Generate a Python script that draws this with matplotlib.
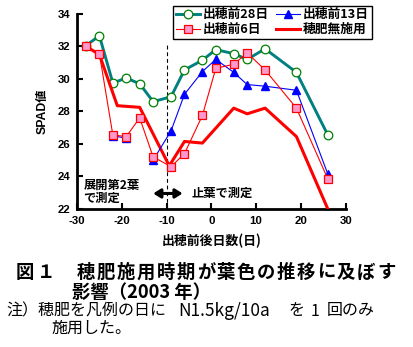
import matplotlib
matplotlib.use("Agg")
import matplotlib.pyplot as plt
import numpy as np
from matplotlib.patches import FancyArrowPatch

plt.rcParams['font.family'] = ['Liberation Sans', 'Noto Sans CJK JP', 'DejaVu Sans']
JP = ['Noto Sans CJK JP', 'DejaVu Sans']
NUM = ['Liberation Sans', 'Noto Sans CJK JP', 'DejaVu Sans']

# Days relative to heading (negative = before heading)
days = [-28, -25, -22, -19, -16, -13, -9, -6, -2, 1, 5, 8, 12, 19, 26]

# SPAD readings for each top-dressing timing
spad_28d = [32.05, 32.65, 29.75, 30.05, 29.7, 28.6, 28.9, 30.55, 31.15, 31.8, 31.55, 31.2, 31.85, 30.4, 26.55]
spad_6d = [32.0, 31.55, 26.55, 26.45, 27.6, 25.2, 24.6, 25.4, 27.75, 30.65, 30.9, 31.6, 30.55, 28.2, 23.85]

days_13d = [-22, -19, -16, -13, -9, -6, -2, 1, 5, 8, 12, 19, 26]
spad_13d = [26.5, 26.35, np.nan, 25.0, 26.8, 29.05, 30.45, 31.2, 30.4, 29.65, 29.55, 29.3, 24.15]

days_none = [-28, -25, -21, -16, -9.4, -6, -2, 5, 8, 12, 19, 26]
spad_none = [32.0, 31.5, 28.35, 28.25, 24.65, 26.15, 26.05, 28.2, 27.85, 28.2, 26.45, 22.0]

labels = ['出穂前28日', '出穂前13日', '出穂前6日', '穂肥無施用']
x_ticks = [-30, -20, -10, 0, 10, 20, 30]
y_ticks = [22, 24, 26, 28, 30, 32, 34]
LEAF_SWITCH_DAY = -10

fig = plt.figure(figsize=(4.14, 3.47), dpi=100)
ax = fig.add_axes([0.186, 0.398, 0.649, 0.562])

l28, = ax.plot(days, spad_28d, color='#008080', lw=2.1, marker='o', ms=6.2,
               mfc='white', mec='#008000', mew=0.9, zorder=3)
l13, = ax.plot(days_13d, spad_13d, color='#0000FF', lw=0.8, marker='^', ms=5.8,
               mfc='#0000FF', mec='#0000FF', zorder=4)
lnone, = ax.plot(days_none, spad_none, color='#FF0000', lw=2.2, zorder=3)
l6, = ax.plot(days, spad_6d, color='#FF0000', lw=0.8, marker='s', ms=5.4,
              mfc='#FF99CC', mec='#FF0000', mew=0.9, zorder=5)

ax.vlines(LEAF_SWITCH_DAY, 22, 32.1, colors='black', linestyles=(0, (3.5, 2.5)), lw=0.8, zorder=2)

ax.set_xlim(-30, 30)
ax.set_ylim(22, 34)
ax.set_xticks(x_ticks)
ax.set_yticks(y_ticks)
ax.set_xticklabels([str(t) for t in x_ticks], fontweight='bold', fontsize=8.2, family=NUM)
ax.set_yticklabels([str(t) for t in y_ticks], fontweight='bold', fontsize=8.2, family=NUM)
ax.tick_params(direction='in', length=4, width=1.5, pad=5)
for s in ['top', 'right']:
    ax.spines[s].set_visible(False)
for s in ['left', 'bottom']:
    ax.spines[s].set_linewidth(2)

ax.set_xlabel('出穂前後日数(日)', family=JP, fontweight='bold', fontsize=9.3, labelpad=6)
ax.set_ylabel('SPAD値', family=NUM, fontweight='bold', fontsize=8.8, labelpad=6)

# measurement-leaf notes and arrow
ax.text(-28.6, 23.05, '展開第2葉\nで測定', family=JP, fontweight='bold', fontsize=8.8,
        ha='left', va='center', linespacing=1.0)
ax.text(-4.4, 22.95, '止葉で測定', family=JP, fontweight='bold', fontsize=8.8,
        ha='left', va='center')
arr = FancyArrowPatch((-13.6, 22.95), (-5.8, 22.95),
                      arrowstyle='<|-|>,head_length=0.35,head_width=0.22',
                      color='black', lw=2.2, mutation_scale=12, zorder=6)
ax.add_patch(arr)

# column-major order so rows read 28日/13日, 6日/無施用
handles = [l28, l6, l13, lnone]
leg_labels = [labels[0], labels[2], labels[1], labels[3]]
leg = fig.legend(handles, leg_labels, ncol=2, loc='upper left',
                 bbox_to_anchor=(173 / 414, 1 - 5.5 / 347),
                 prop={'family': JP, 'weight': 'bold', 'size': 9.2},
                 frameon=True, fancybox=False, framealpha=1, edgecolor='black',
                 handlelength=1.9, handletextpad=0.2, columnspacing=0.6,
                 labelspacing=0.15, borderpad=0.2, borderaxespad=0)
leg.get_frame().set_linewidth(1.0)


def fig_y(py):
    return 1 - py / 347


def spaced_text(x0, py, text, pitch, **kw):
    """Draw text one character at a time with a fixed pixel pitch."""
    for i, ch in enumerate(text):
        fig.text((x0 + i * pitch) / 414, fig_y(py), ch, **kw)


# caption
cap = dict(family=JP, fontweight='bold', fontsize=13.2, va='center')
spaced_text(16, 272, '図１', 21, **cap)
spaced_text(77, 272, '穂肥施用時期が葉色の推移に及ぼす', 20, **cap)
fig.text(72 / 414, fig_y(292), '影響（2003 年）', **cap)

note = dict(family=JP, fontsize=11.5, va='center')
fig.text(6 / 414, fig_y(311), '注）穂肥を凡例の日に', **note)
fig.text(178 / 414, fig_y(311), 'N1.5kg/10a', family=JP, fontsize=12.5, va='center')
fig.text(288 / 414, fig_y(311), 'を', **note)
fig.text(311 / 414, fig_y(311), '1', **note)
fig.text(327 / 414, fig_y(311), '回のみ', **note)
fig.text(51 / 414, fig_y(328), '施用した。', **note)

fig.savefig('out.png', dpi=100)
